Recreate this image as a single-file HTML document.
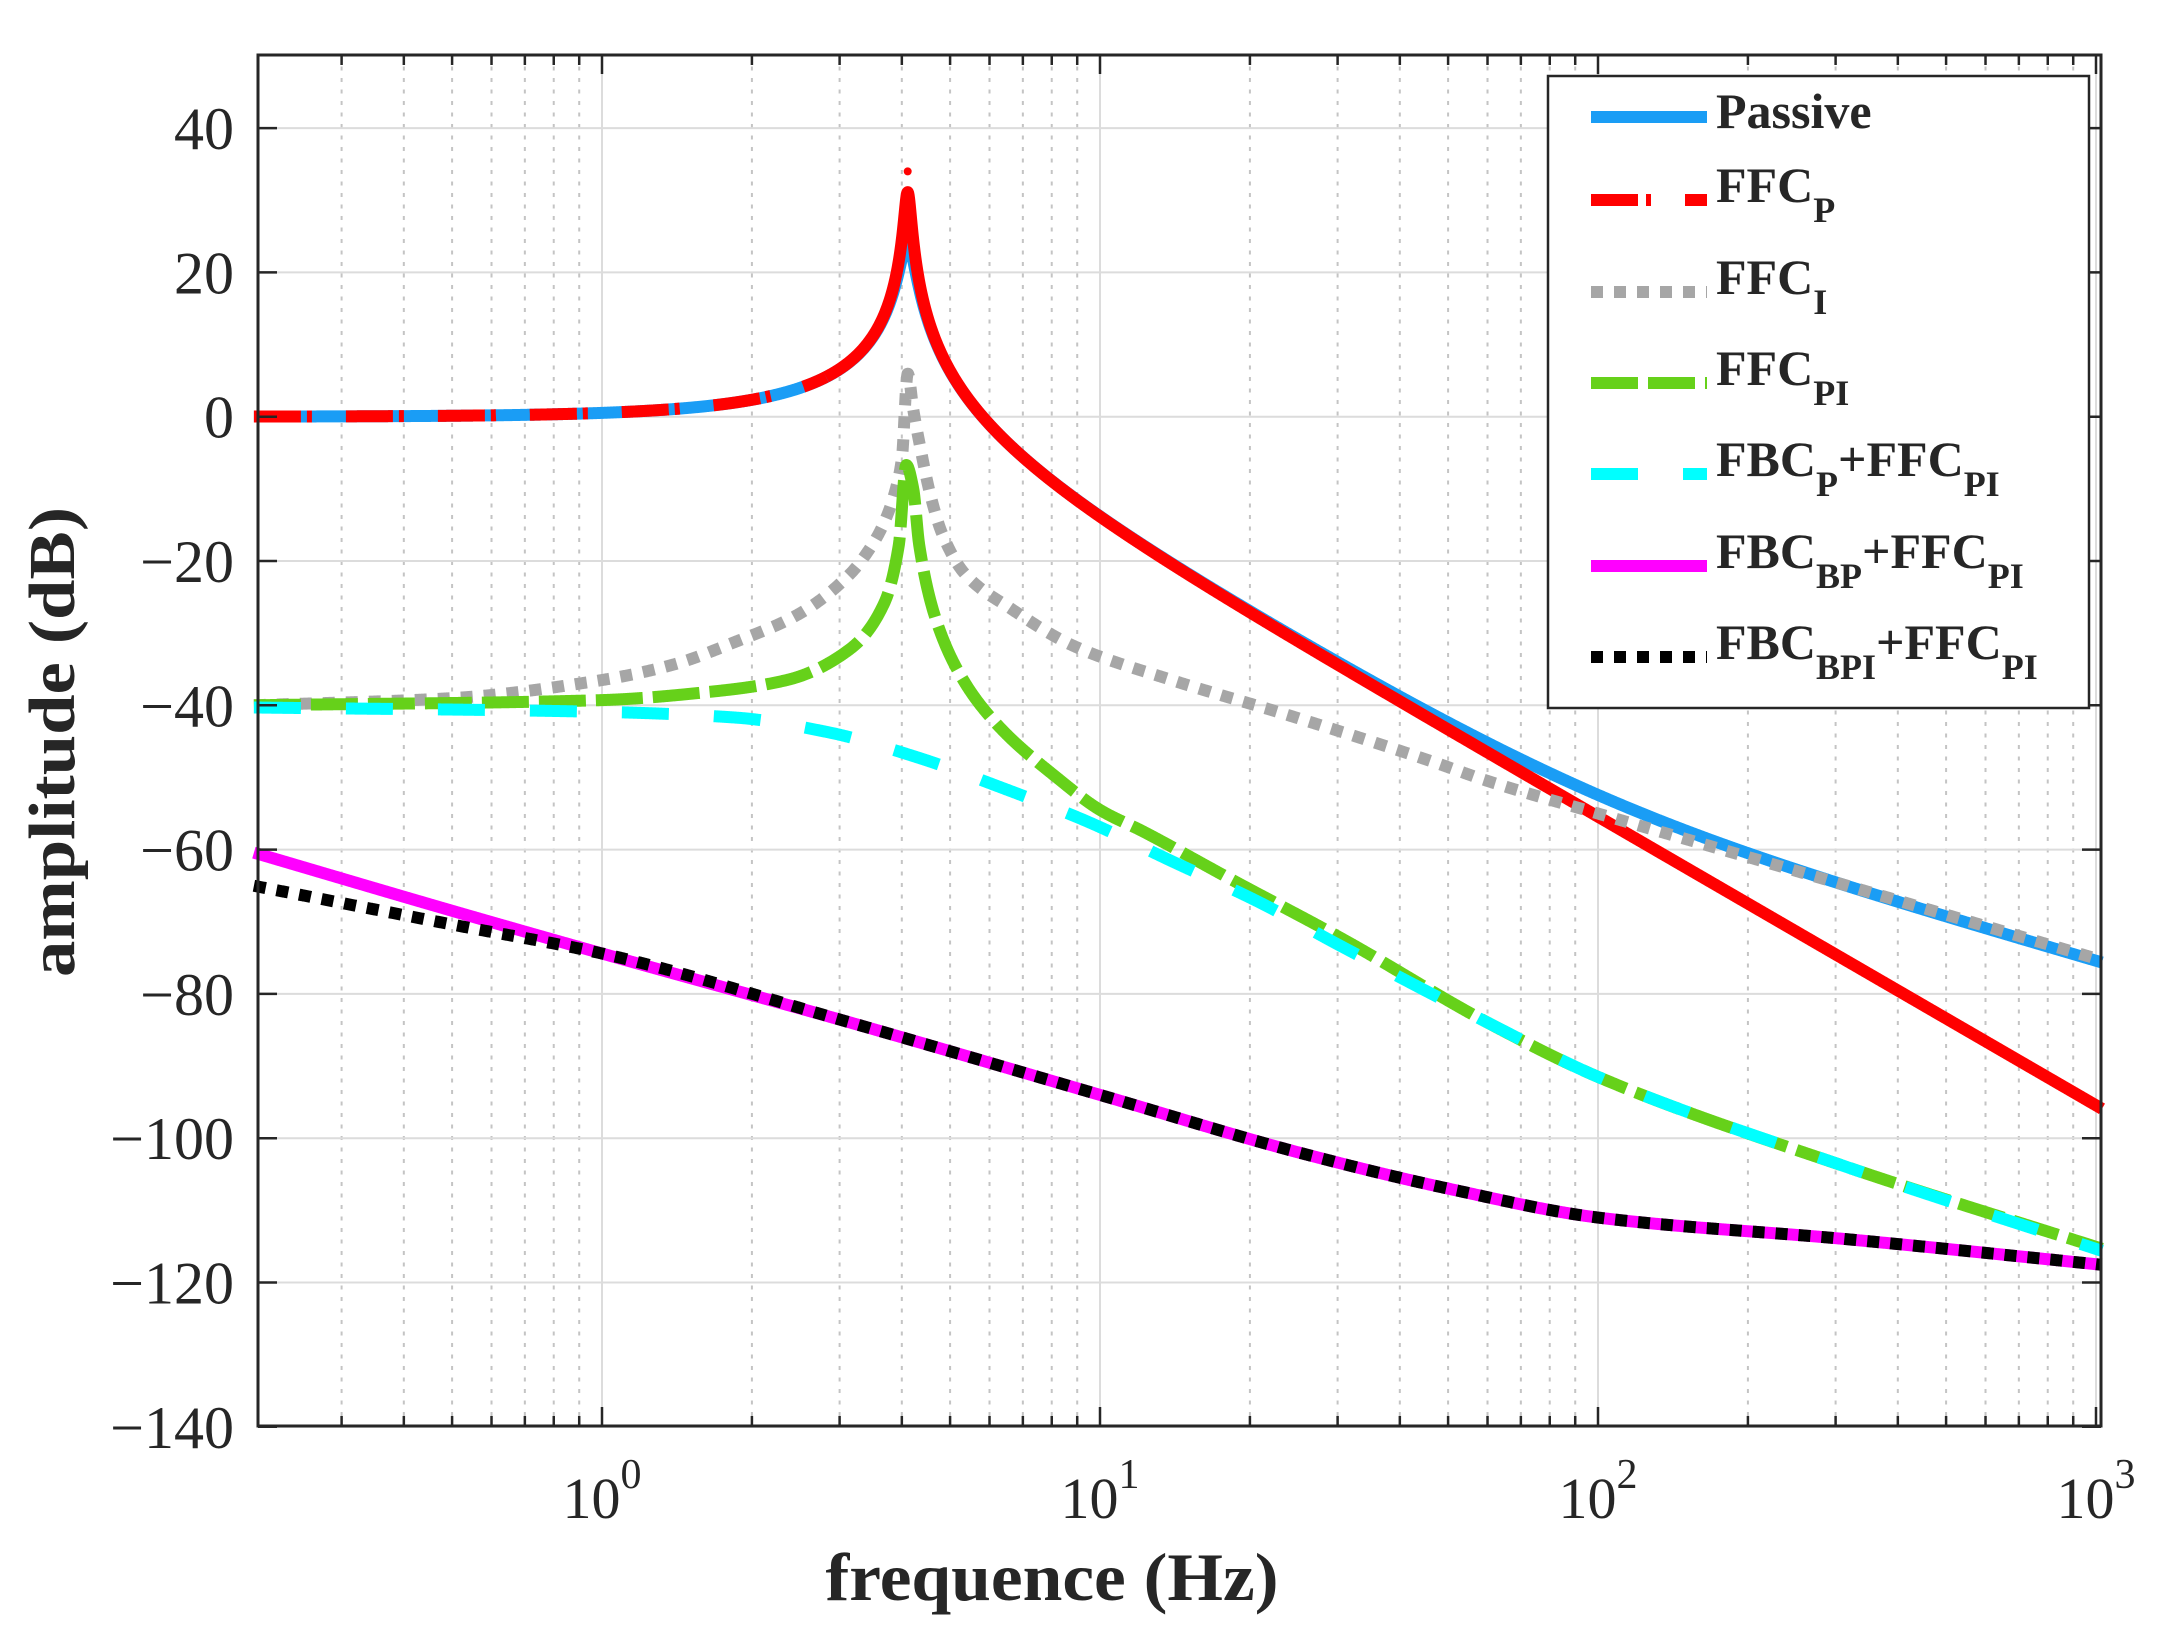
<!DOCTYPE html>
<html><head><meta charset="utf-8"><style>
html,body{margin:0;padding:0;background:#fff;}
svg{display:block;}
text{font-family:"Liberation Serif","DejaVu Serif",serif;fill:#262626;}
</style></head><body>
<svg id="s" width="2164" height="1648" viewBox="0 0 2164 1648" xmlns="http://www.w3.org/2000/svg">
<rect width="2164" height="1648" fill="#fff"/>
<g id="grid"></g>
<g id="curves"></g>
<g id="axes"></g>
<g id="legend"></g>
</svg>
<script>
var NS="http://www.w3.org/2000/svg";
var L=258,R=2101,T=55,B=1426;
function X(f){return 602+498*Math.log10(f);}
function XL(l){return 602+498*l;}
function Y(db){return 416.7-db*7.215;}
function el(p,tag,a,txt){var e=document.createElementNS(NS,tag);for(var k in a)e.setAttribute(k,a[k]);if(txt!==undefined)e.textContent=txt;p.appendChild(e);return e;}
var grid=document.getElementById('grid'),curves=document.getElementById('curves'),axes=document.getElementById('axes'),leg=document.getElementById('legend');
for(var d=-1;d<=3;d++){for(var m=1;m<=9;m++){var f=m*Math.pow(10,d);var x=X(f);if(x<L+2||x>R-1)continue;
 if(m==1){el(grid,'line',{x1:x,y1:T,x2:x,y2:B,stroke:'#dcdcdc','stroke-width':2});}
 else{el(grid,'line',{x1:x,y1:T,x2:x,y2:B,stroke:'#c4c4c4','stroke-width':2,'stroke-dasharray':'4 7.5'});}
}}
for(var v=-140;v<=40;v+=20){var y=Y(v);el(grid,'line',{x1:L,y1:y,x2:R,y2:y,stroke:'#dcdcdc','stroke-width':2});}
function cabs(re,im){return Math.sqrt(re*re+im*im);}
function passive(f){var f0=4.11,Q=16,fz=100;var r=f/f0;var num=cabs(1,f/fz);var den=cabs(1-r*r,r/Q);return 20*Math.log10(num/den);}
function ffcp(f){var f0=4.11,Q=36;var r=f/f0;return -20*Math.log10(cabs(1-r*r,r/Q));}
// monotone cubic interpolation (Fritsch-Carlson) in log f
function interp(pts){var n=pts.length,xs=pts.map(function(p){return p[0];}),ys=pts.map(function(p){return p[1];});
 var dl=[],ms=[];for(var i=0;i<n-1;i++){dl.push((ys[i+1]-ys[i])/(xs[i+1]-xs[i]));}
 ms[0]=dl[0];ms[n-1]=dl[n-2];for(var i=1;i<n-1;i++){if(dl[i-1]*dl[i]<=0)ms[i]=0;else{var w1=2*(xs[i+1]-xs[i])+(xs[i]-xs[i-1]),w2=(xs[i+1]-xs[i])+2*(xs[i]-xs[i-1]);ms[i]=(w1+w2)/(w1/dl[i-1]+w2/dl[i]);}}
 return function(f){var l=Math.log10(f);if(l<=xs[0])return ys[0];if(l>=xs[n-1])return ys[n-1];var i=0;while(l>xs[i+1])i++;
  var h=xs[i+1]-xs[i],t=(l-xs[i])/h,t2=t*t,t3=t2*t;
  return (2*t3-3*t2+1)*ys[i]+(t3-2*t2+t)*h*ms[i]+(-2*t3+3*t2)*ys[i+1]+(t3-t2)*h*ms[i+1];};}
var grey=interp([[-0.7,-40],[-0.3,-39],[-0.009,-36.6],[0.141,-34.4],[0.268,-31.2],[0.394,-27.4],[0.498,-21.8],[0.545,-17.5],[0.567,-14.6],[0.590,-10],[0.602,-5.9],[0.614,6.0],[0.625,1],[0.637,-3.5],[0.66,-11],[0.683,-16.2],[0.729,-21.8],[0.821,-26.6],[0.948,-31.8],[1.144,-36.5],[1.375,-41.3],[1.663,-47.7],[1.779,-50.5],[2,-55],[2.5,-65],[3.02,-75.5]]);
var green=interp([[-0.7,-40],[-0.009,-39.3],[0.221,-38.1],[0.371,-36.5],[0.498,-32.2],[0.567,-25.8],[0.596,-17.8],[0.611,-6.7],[0.625,-10],[0.637,-17.8],[0.671,-28.2],[0.729,-36.9],[0.798,-43],[0.913,-50],[1.0,-54.5],[1.087,-57.5],[1.26,-64],[1.49,-72.5],[1.779,-84],[2,-91.5],[2.5,-104],[3.02,-115.5]]);
var cyan=interp([[-0.7,-40.3],[-0.009,-40.9],[0.268,-41.7],[0.452,-43.7],[0.637,-47.3],[0.798,-51.3],[0.971,-56],[1.144,-61.6],[1.317,-67.2],[1.49,-73.6],[1.779,-84],[2,-91.5],[2.5,-104],[3.02,-115.8]]);
var mag=interp([[-0.7,-60.4],[-0.3,-68.5],[0,-74.4],[0.5,-84],[1,-94],[1.4,-102],[1.7,-107],[2,-111],[2.5,-114],[3.02,-117.6]]);
var blk=interp([[-0.7,-65],[-0.3,-70.4],[0,-74.4],[0.5,-84],[1,-94],[1.4,-102],[1.7,-107],[2,-111],[2.5,-114],[3.02,-117.6]]);
function path(fn,opts,l0,l1){if(l0===undefined)l0=Math.log10(0.2);if(l1===undefined)l1=3.012;var d='';var n=3000;for(var i=0;i<=n;i++){var l=l0+(l1-l0)*i/n;var f=Math.pow(10,l);var y=Y(fn(f));y=Math.max(T,Math.min(B,y));d+=(i?'L':'M')+XL(l).toFixed(2)+' '+y.toFixed(2);}
 var a={d:d,fill:'none','stroke-width':12,'stroke-linejoin':'round'};for(var k in opts)a[k]=opts[k];el(curves,'path',a);}
path(passive,{stroke:'#1a9df5'});
path(ffcp,{stroke:'#ff0000','stroke-dasharray':'47 6 5 34'},Math.log10(0.2),0.45);
path(ffcp,{stroke:'#ff0000'},0.45,3.012);
path(grey,{stroke:'#a6a6a6','stroke-dasharray':'12 11'});
path(green,{stroke:'#66d11a','stroke-dasharray':'47 10'});
path(cyan,{stroke:'#00ffff','stroke-dasharray':'47 45'});
path(mag,{stroke:'#ff00ff'});
path(blk,{stroke:'#000','stroke-dasharray':'12 11'});
el(curves,'circle',{cx:X(4.11),cy:Y(34),r:4,fill:'#f00'});
el(axes,'rect',{x:L,y:T,width:R-L,height:B-T,fill:'none',stroke:'#262626','stroke-width':3});
for(var d=-1;d<=3;d++){for(var m=1;m<=9;m++){var f=m*Math.pow(10,d);var x=X(f);if(x<L+2||x>R+1)continue;var len=(m==1)?19:10;
 el(axes,'line',{x1:x,y1:B,x2:x,y2:B-len,stroke:'#262626','stroke-width':2.5});
 el(axes,'line',{x1:x,y1:T,x2:x,y2:T+len,stroke:'#262626','stroke-width':2.5});}}
for(var v=-140;v<=40;v+=20){var y=Y(v);
 el(axes,'line',{x1:L,y1:y,x2:L+19,y2:y,stroke:'#262626','stroke-width':2.5});
 el(axes,'line',{x1:R,y1:y,x2:R-19,y2:y,stroke:'#262626','stroke-width':2.5});
 el(axes,'text',{x:234,y:y+21,'text-anchor':'end','font-size':60},(v<0?'\u2212':'')+Math.abs(v));}
for(var d=0;d<=3;d++){var x=X(Math.pow(10,d));var t=el(axes,'text',{x:x,y:1518,'text-anchor':'middle','font-size':58});
 el(t,'tspan',{},'10');el(t,'tspan',{dy:-30,'font-size':42},''+d);}
el(axes,'text',{x:1052,y:1600,'text-anchor':'middle','font-size':68,'font-weight':'bold',textLength:453,lengthAdjust:'spacingAndGlyphs'},'frequence (Hz)');
el(axes,'text',{x:0,y:0,'text-anchor':'middle','font-size':66,'font-weight':'bold',textLength:470,lengthAdjust:'spacingAndGlyphs',transform:'translate(74,742) rotate(-90)'},'amplitude (dB)');
el(leg,'rect',{x:1548,y:76,width:541,height:632,fill:'#fff',stroke:'#262626','stroke-width':2.5});
var rows=[
 {y:117,st:{stroke:'#1a9df5'},parts:[['Passive',0]]},
 {y:200,st:{stroke:'#ff0000','stroke-dasharray':'47 8 5 34'},parts:[['FFC',0],['P',1]]},
 {y:292,st:{stroke:'#a6a6a6','stroke-dasharray':'12 11'},parts:[['FFC',0],['I',1]]},
 {y:383,st:{stroke:'#66d11a','stroke-dasharray':'47 10'},parts:[['FFC',0],['PI',1]]},
 {y:474,st:{stroke:'#00ffff','stroke-dasharray':'47 45'},parts:[['FBC',0],['P',1],['+FFC',0],['PI',1]]},
 {y:566,st:{stroke:'#ff00ff'},parts:[['FBC',0],['BP',1],['+FFC',0],['PI',1]]},
 {y:657,st:{stroke:'#000','stroke-dasharray':'12 11'},parts:[['FBC',0],['BPI',1],['+FFC',0],['PI',1]]}];
rows.forEach(function(r,i){var a={x1:1591,y1:r.y,x2:1707,y2:r.y,'stroke-width':12};for(var k in r.st)a[k]=r.st[k];el(leg,'line',a);
 var base=(i==0)?r.y+11:r.y+2;var t=el(leg,'text',{x:1716,y:base,'font-size':50,'font-weight':'bold',fill:'#000'});
 var cur=0;r.parts.forEach(function(p){var dy=0;if(p[1]&&cur==0)dy=20;if(!p[1]&&cur==1)dy=-20;cur=p[1];
  var ta={'font-size':p[1]?36:50};if(dy)ta.dy=dy;el(t,'tspan',ta,p[0]);});
});
</script>
</body></html>
